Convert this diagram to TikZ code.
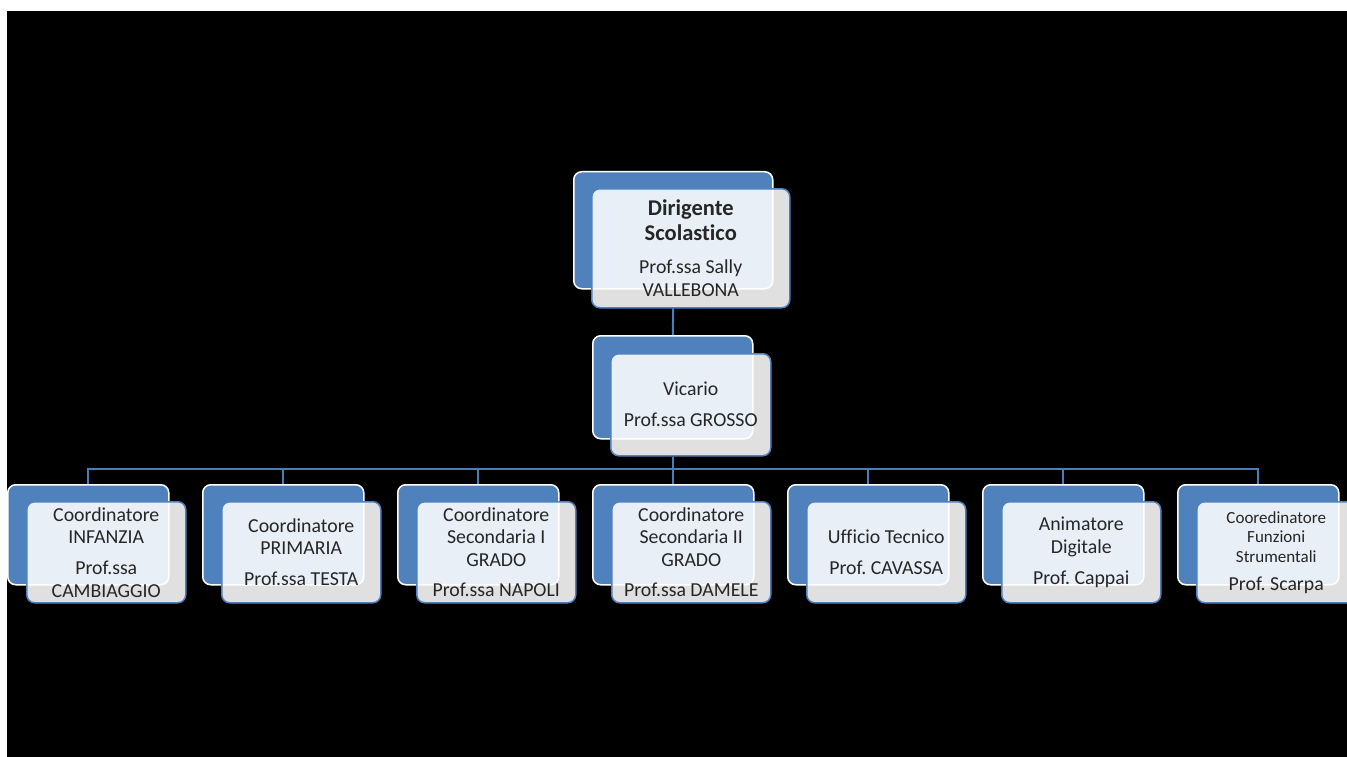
\documentclass[tikz,border=0pt]{standalone}
\usepackage{fontspec}
\setmainfont{Carlito}[Ligatures=NoCommon]
\frenchspacing
\definecolor{sblue}{HTML}{4F81BD}
\definecolor{linkblue}{HTML}{4A7EBB}
\newcommand\regfont{\fontsize{19.8}{22.5}\selectfont}
\newcommand\smallfont{\fontsize{17}{19.5}\selectfont}
\newcommand\boldbig{\fontsize{22.5}{25}\selectfont\bfseries}
\tikzset{
  backbox/.style={rectangle, rounded corners=8pt, draw=white, line width=1.5pt,
    fill=sblue, inner sep=0pt, anchor=north west},
  frontbox/.style={rectangle, rounded corners=8pt, draw=sblue, line width=1.5pt,
    fill=white, fill opacity=0.88, text opacity=1, inner sep=0pt,
    anchor=north west, align=center, font=\regfont, text=black!85},
  childback/.style={backbox, minimum width=161pt, minimum height=100pt},
  childfront/.style={frontbox, minimum width=159pt, minimum height=101pt},
  link/.style={draw=linkblue, line width=2pt}
}
\begin{document}
\begin{tikzpicture}[x=1pt,y=-1pt]
\useasboundingbox (0,0) rectangle (1347,757);
\fill[white] (0,0) rectangle (1347,757);
\fill[black] (7,11) rectangle (1347,757);

% Dirigente
\node[backbox, minimum width=199pt, minimum height=117pt] (dB) at (573,171) {};
\node[frontbox, minimum width=198pt, minimum height=119pt] (dF) at (591,188)
  {{\boldbig Dirigente}\\[2pt]{\boldbig Scolastico}\\[11pt]Prof.ssa Sally\\VALLEBONA};

% Vicario
\node[backbox, minimum width=160pt, minimum height=103pt] (vB) at (592,335) {};
\node[frontbox, minimum width=160pt, minimum height=102pt] (vF) at (610,353)
  {Vicario\\[8.5pt]Prof.ssa GROSSO};

% children
\node[childback] (c1B) at (7,484) {};
\node[childfront] (c1F) at (26,501) {Coordinatore\\INFANZIA\\[8.5pt]Prof.ssa\\CAMBIAGGIO};
\node[childback] (c2B) at (202,484) {};
\node[childfront] (c2F) at (221,501) {Coordinatore\\PRIMARIA\\[8.5pt]Prof.ssa TESTA};
\node[childback] (c3B) at (397,484) {};
\node[childfront] (c3F) at (416,501) {Coordinatore\\Secondaria I\\GRADO\\[8pt]Prof.ssa NAPOLI};
\node[childback] (c4B) at (592,484) {};
\node[childfront] (c4F) at (611,501) {Coordinatore\\Secondaria II\\GRADO\\[8pt]Prof.ssa DAMELE};
\node[childback] (c5B) at (787,484) {};
\node[childfront] (c5F) at (806,501) {Ufficio Tecnico\\[8.5pt]Prof. CAVASSA};
\node[childback] (c6B) at (982,484) {};
\node[childfront] (c6F) at (1001,501) {Animatore\\Digitale\\[8.5pt]Prof. Cappai};
\node[childback] (c7B) at (1177,484) {};
\node[childfront, font=\smallfont] (c7F) at (1196,501)
  {Cooredinatore\\Funzioni\\Strumentali\\[8.5pt]{\regfont Prof. Scarpa}};

% connectors
\coordinate (bus) at (0,469);
\draw[link] (dB.south |- dF.south) -- (vB.north);
\draw[link] (vB.south |- vF.south) -- (vB.south |- bus);
\draw[link] (c1B.north) -- (c1B.north |- bus) -- (c7B.north |- bus) -- (c7B.north);
\foreach \i in {2,...,6} {
  \draw[link] (c\i B.north |- bus) -- (c\i B.north);
}
\end{tikzpicture}
\end{document}
